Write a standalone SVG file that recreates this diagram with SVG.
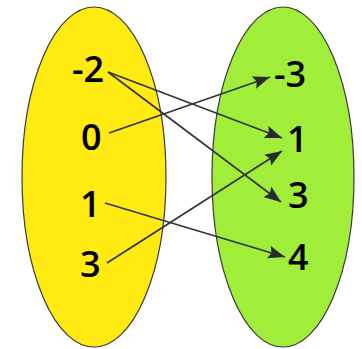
<svg xmlns="http://www.w3.org/2000/svg" width="362" height="349" viewBox="0 0 362 349">
<defs>
<style>
.set{stroke:#3a3a3a;stroke-width:1.2}
.lbl{font-family:"Open Sans","Noto Sans","Liberation Sans",sans-serif;font-size:36px;font-weight:600;fill:#000}
.conn{stroke:#333;stroke-width:1.6;fill:none;marker-end:url(#arr)}
</style>
<marker id="arr" markerUnits="userSpaceOnUse" viewBox="0 0 17 13" refX="17" refY="6.5" markerWidth="17" markerHeight="13" orient="auto">
<path d="M0,0 L17,6.5 L0,13 L3,6.5 z" fill="#2a2a2a"/>
</marker>
</defs>
<rect width="362" height="349" fill="#fff"/>
<g id="domain">
<ellipse class="set" cx="94" cy="177" rx="72" ry="170" fill="#ffea12"/>
<text class="lbl" x="72" y="82">-2</text>
<text class="lbl" x="81" y="150">0</text>
<text class="lbl" x="80" y="217">1</text>
<text class="lbl" x="80" y="277">3</text>
</g>
<g id="codomain">
<ellipse class="set" cx="283" cy="177" rx="71" ry="170" fill="#a0ee3a"/>
<text class="lbl" x="274" y="87">-3</text>
<text class="lbl" x="287" y="152">1</text>
<text class="lbl" x="288" y="208">3</text>
<text class="lbl" x="288" y="270">4</text>
</g>
<g id="connectors">
<line class="conn" x1="108" y1="72" x2="282" y2="138"/>
<line class="conn" x1="108" y1="72" x2="281" y2="202"/>
<line class="conn" x1="109" y1="133" x2="270" y2="77"/>
<line class="conn" x1="105" y1="203" x2="285" y2="257"/>
<line class="conn" x1="107" y1="263" x2="282" y2="151"/>
</g>
</svg>
